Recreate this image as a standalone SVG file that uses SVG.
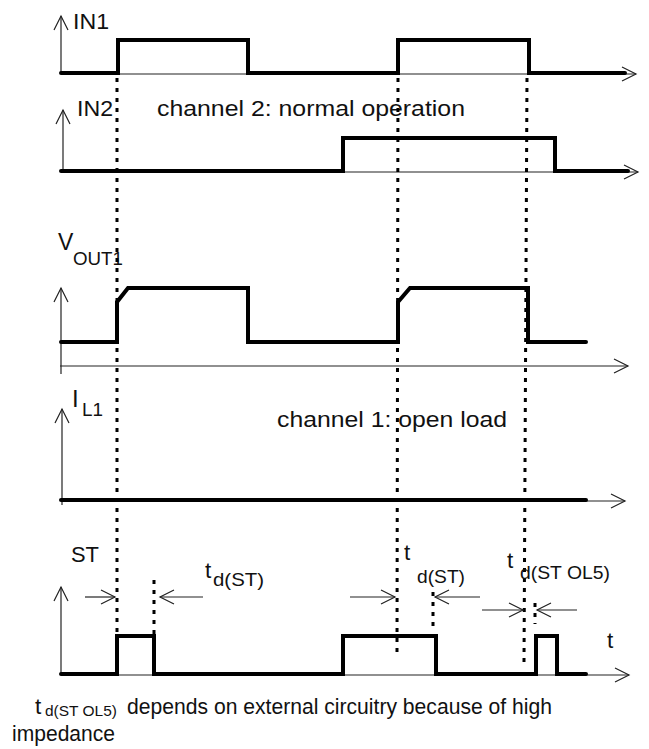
<svg xmlns="http://www.w3.org/2000/svg" width="649" height="749" viewBox="0 0 649 749">
<style>
.sig{fill:none;stroke:#000;stroke-width:4;stroke-linecap:round;stroke-linejoin:miter}
.thin{fill:none;stroke:#222;stroke-width:1.2}
.dot{fill:none;stroke:#000;stroke-width:3;stroke-dasharray:4 6}
text{font-family:"Liberation Sans",Arial,sans-serif;fill:#111}
.lb{font-size:22.5px}
.sub{font-size:18px}
</style>
<defs>
<marker id="ah" markerUnits="userSpaceOnUse" markerWidth="20" markerHeight="20" viewBox="-16 -10 20 20" refX="0" refY="0" orient="auto">
<path d="M-14,-7 L0,0 L-14,7" fill="none" stroke="#222" stroke-width="1.2"/>
</marker>
</defs>
<rect width="649" height="749" fill="#fff"/>

<g id="in1">
<line class="thin" x1="61" y1="73" x2="61" y2="16" marker-end="url(#ah)"/>
<line class="thin" x1="61" y1="74" x2="636" y2="74" marker-end="url(#ah)"/>
<polyline class="sig" points="61,73 118,73 118,40 248,40 248,73 398,73 398,40 529,40 529,73 625,73"/>
<text class="lb" x="73" y="29" textLength="36" lengthAdjust="spacingAndGlyphs">IN1</text>
</g>

<g id="in2">
<line class="thin" x1="63" y1="171" x2="63" y2="110" marker-end="url(#ah)"/>
<line class="thin" x1="61" y1="172" x2="638" y2="172" marker-end="url(#ah)"/>
<polyline class="sig" points="61,171 343,171 343,138 555,138 555,171 628,171"/>
<text class="lb" x="77" y="116" textLength="36" lengthAdjust="spacingAndGlyphs">IN2</text>
<text class="lb" x="157" y="116" textLength="308" lengthAdjust="spacingAndGlyphs">channel 2: normal operation</text>
</g>

<g id="vout1">
<line class="thin" x1="61" y1="374" x2="61" y2="288" marker-end="url(#ah)"/>
<line class="thin" x1="60" y1="366" x2="628" y2="366" marker-end="url(#ah)"/>
<polyline class="sig" points="61,342 117,342 117,302 128,288 248,288 248,342 398,342 398,302 410,288 528,288 528,342 586,342"/>
<text x="58" y="250" style="font-size:23px">V</text>
<text class="sub" x="73" y="265" textLength="50" lengthAdjust="spacingAndGlyphs">OUT1</text>
</g>

<g id="il1">
<line class="thin" x1="62" y1="505" x2="62" y2="409" marker-end="url(#ah)"/>
<line class="thin" x1="61" y1="501" x2="625" y2="501" marker-end="url(#ah)"/>
<line class="sig" x1="61" y1="500" x2="586" y2="500"/>
<text x="72" y="407" style="font-size:24px">I</text>
<text class="sub" x="82" y="416" textLength="21" lengthAdjust="spacingAndGlyphs">L1</text>
<text class="lb" x="277" y="427" textLength="230" lengthAdjust="spacingAndGlyphs">channel 1: open load</text>
</g>

<g id="st">
<line class="thin" x1="61" y1="674" x2="61" y2="587" marker-end="url(#ah)"/>
<line class="thin" x1="61" y1="675" x2="629" y2="675" marker-end="url(#ah)"/>
<polyline class="sig" points="61,674 117,674 117,636 154,636 154,674 343,674 343,636 436,636 436,674 536,674 536,636 557,636 557,674 586,674"/>
<text class="lb" x="71" y="562" textLength="28" lengthAdjust="spacingAndGlyphs">ST</text>
<text class="lb" x="607" y="648">t</text>
</g>

<g id="dotted">
<line class="dot" x1="117" y1="78" x2="117" y2="636"/>
<line class="dot" x1="398" y1="78" x2="397" y2="653"/>
<line class="dot" x1="527" y1="78" x2="524" y2="663"/>
<line class="dot" x1="154" y1="580" x2="154" y2="636"/>
<line class="dot" x1="433" y1="592" x2="433" y2="626"/>
<line class="dot" x1="535" y1="603" x2="535" y2="624"/>
</g>

<g id="timing">
<line class="thin" x1="85" y1="597" x2="115" y2="597" marker-end="url(#ah)"/>
<line class="thin" x1="203" y1="597" x2="160" y2="597" marker-end="url(#ah)"/>
<line class="thin" x1="350" y1="597" x2="395" y2="597" marker-end="url(#ah)"/>
<line class="thin" x1="480" y1="597" x2="435" y2="597" marker-end="url(#ah)"/>
<line class="thin" x1="482" y1="610" x2="523" y2="610" marker-end="url(#ah)"/>
<line class="thin" x1="577" y1="610" x2="537" y2="610" marker-end="url(#ah)"/>
<text class="lb" x="205" y="578">t</text>
<text class="sub" x="213" y="586" textLength="51" lengthAdjust="spacingAndGlyphs">d(ST)</text>
<text class="lb" x="404" y="560">t</text>
<text class="sub" x="417" y="583" textLength="48" lengthAdjust="spacingAndGlyphs">d(ST)</text>
<text class="lb" x="507" y="568">t</text>
<text class="sub" x="520" y="579" textLength="90" lengthAdjust="spacingAndGlyphs">d(ST OL5)</text>
</g>

<g id="note">
<text class="lb" x="35" y="714">t</text>
<text x="45" y="716" style="font-size:15px" textLength="72" lengthAdjust="spacingAndGlyphs">d(ST OL5)</text>
<text class="lb" x="127" y="714" textLength="425" lengthAdjust="spacingAndGlyphs">depends on external circuitry because of high</text>
<text class="lb" x="12" y="741" textLength="103" lengthAdjust="spacingAndGlyphs">impedance</text>
</g>
</svg>
